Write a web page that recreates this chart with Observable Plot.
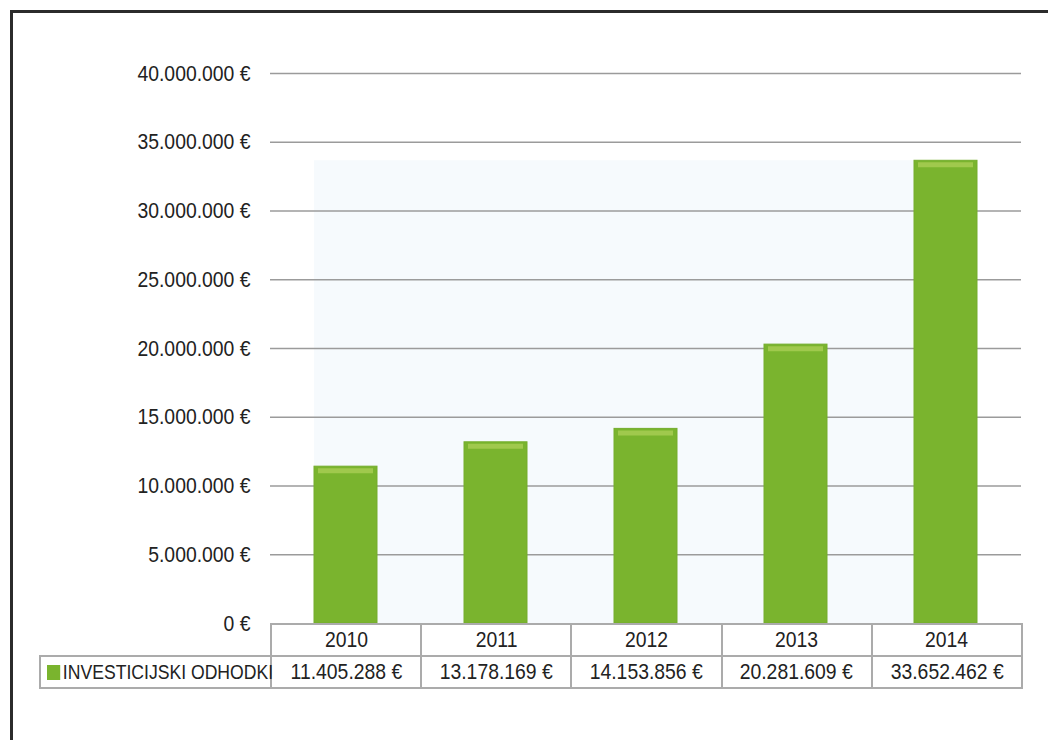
<!DOCTYPE html>
<html><head><meta charset="utf-8">
<script src="https://cdn.jsdelivr.net/npm/d3@7"></script>
<script src="https://cdn.jsdelivr.net/npm/@observablehq/plot@0.6"></script>
<style>
html,body{margin:0;padding:0;background:#fff;overflow:hidden;width:1048px;height:740px;}
#frame{position:absolute;left:10px;top:10px;width:1200px;height:900px;border-left:3px solid #2b2b2b;border-top:3px solid #2b2b2b;box-sizing:border-box;}
#chart{position:absolute;left:0;top:0;}
#tbl{position:absolute;border-collapse:collapse;table-layout:fixed;color:#222;}
#tbl td{border:2px solid #ababab;height:30px;padding:0;text-align:center;white-space:nowrap;overflow:hidden;}
#tbl td.blank{border:none;}
#tbl td.legend{text-align:left;padding-left:6px;overflow:visible;font-size:20px;}
.nar{display:inline-block;transform:scaleX(0.88);transform-origin:50% 50%;white-space:nowrap;}
.legend .nar{transform-origin:0 50%;}
.sw{display:inline-block;width:15px;height:15px;background:#7ab42e;margin-right:3px;vertical-align:-1px;}
</style>
</head><body>
<div id="frame"></div>
<div id="chart"></div>
<table id="tbl"></table>
<script>
const years = ["2010", "2011", "2012", "2013", "2014"];
const values = [11405288, 13178169, 14153856, 20281609, 33652462];
const seriesName = "INVESTICIJSKI ODHODKI";
const yTicks = [0, 5000000, 10000000, 15000000, 20000000, 25000000, 30000000, 35000000, 40000000];

const FONT = '"Liberation Sans", Arial, sans-serif';
const NARROW = 0.88;
const W = 1048, H = 640, ML = 270, MR = 27, MT = 73, MB = 17;

const locale = d3.formatLocale({decimal: ",", thousands: ".", grouping: [3], currency: ["", " €"]});
const fmt = locale.format("$,.0f");

const data = years.map((year, i) => ({year, value: values[i]}));

// light backdrop panel behind the bars, spanning first to last bar and up to the tallest bar
function panel(index, scales) {
  const x = scales.x, y = scales.y;
  const bw = typeof x.bandwidth === "function" ? x.bandwidth() : x.bandwidth;
  const x0 = x(years[0]);
  const x1 = x(years[years.length - 1]) + bw;
  const yTop = y(d3.max(values));
  const yBot = y(0);
  return d3.create("svg:rect")
    .attr("x", x0).attr("y", yTop)
    .attr("width", x1 - x0).attr("height", yBot - yTop)
    .attr("fill", "#f6fafd").node();
}

const chart = Plot.plot({
  width: W, height: H,
  marginLeft: ML, marginRight: MR, marginTop: MT, marginBottom: MB,
  style: {fontFamily: FONT, fontSize: "22px", color: "#222", background: "transparent", overflow: "visible"},
  x: {domain: years, paddingInner: 0.58, paddingOuter: 0.29, axis: null},
  y: {domain: [0, 40000000], ticks: yTicks, tickFormat: fmt, tickSize: 0, tickPadding: 20, label: null},
  marks: [
    panel,
    Plot.ruleY(yTicks.filter(v => v > 0), {stroke: "#9b9b9b", strokeWidth: 1.5}),
    Plot.barY(data, {x: "year", y: "value", fill: "#7ab42e", stroke: "#74ad2c", strokeWidth: 1}),
    Plot.tickY(data, {x: "year", y: "value", dy: 4, stroke: "#a0c94d", strokeWidth: 5, inset: 4})
  ]
});
document.getElementById("chart").appendChild(chart);
// narrow (Arial Narrow-like) lettering for the axis labels
d3.select(chart).selectAll("text").each(function() {
  const len = this.getComputedTextLength();
  if (len > 0) {
    this.setAttribute("textLength", len * NARROW);
    this.setAttribute("lengthAdjust", "spacingAndGlyphs");
  }
});

// data table below the chart, aligned with the x bands
const step = (W - ML - MR) / years.length;
const legendW = 231;
const tbl = d3.select("#tbl")
  .style("left", (ML - legendW) + "px")
  .style("top", (H - MB) + "px")
  .style("width", (legendW + step * years.length) + "px")
  .style("font-family", FONT)
  .style("font-size", "22px");
const cg = tbl.append("colgroup");
cg.append("col").style("width", legendW + "px");
years.forEach(() => cg.append("col").style("width", step + "px"));
const r1 = tbl.append("tr");
r1.append("td").attr("class", "blank");
years.forEach(y => r1.append("td").append("span").attr("class", "nar").text(y));
const r2 = tbl.append("tr");
const lc = r2.append("td").attr("class", "legend");
const ln = lc.append("span").attr("class", "nar");
ln.append("span").attr("class", "sw");
ln.append("span").text(seriesName);
values.forEach(v => r2.append("td").append("span").attr("class", "nar").text(fmt(v)));
</script>
</body></html>
